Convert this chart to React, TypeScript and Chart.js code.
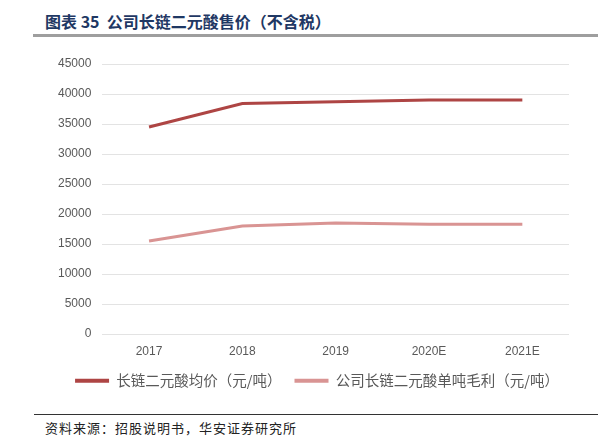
import React, { useEffect, useRef } from "react";
import { Chart, registerables } from "chart.js";

Chart.register(...registerables);

const categories = ["2017", "2018", "2019", "2020E", "2021E"];
const avgPrice = [34500, 38400, 38700, 39000, 39000];
const grossProfit = [15500, 18000, 18500, 18300, 18300];
const seriesNames = ["长链二元酸均价（元/吨）", "公司长链二元酸单吨毛利（元/吨）"];
const yTicks = [0, 5000, 10000, 15000, 20000, 25000, 30000, 35000, 40000, 45000];

const titleText = "图表 35  公司长链二元酸售价（不含税）";
const sourceText = "资料来源：招股说明书，华安证券研究所";

const legendShift = {
  id: "legendShift",
  afterLayout(chart: any) {
    const l = chart.legend;
    if (l) {
      l.left += 9;
      l.right += 9;
    }
  },
};

export default function App() {
  const ref = useRef<HTMLCanvasElement | null>(null);

  useEffect(() => {
    if (!ref.current) return;
    const chart = new Chart(ref.current, {
      type: "line",
      data: {
        labels: categories,
        datasets: [
          {
            label: seriesNames[0],
            data: avgPrice,
            borderColor: "#AE4544",
            backgroundColor: "#AE4544",
            borderWidth: 3,
            pointRadius: 0,
            tension: 0,
          },
          {
            label: seriesNames[1],
            data: grossProfit,
            borderColor: "#D99493",
            backgroundColor: "#D99493",
            borderWidth: 3,
            pointRadius: 0,
            tension: 0,
          },
        ],
      },
      plugins: [legendShift],
      options: {
        animation: false,
        responsive: false,
        maintainAspectRatio: false,
        layout: { padding: { top: 24, left: 47, right: 39, bottom: 0 } },
        plugins: {
          tooltip: { enabled: false },
          legend: {
            position: "bottom",
            labels: {
              boxWidth: 34,
              boxHeight: 4,
              padding: 13,
              color: "#595959",
              font: { family: "'Noto Sans CJK SC', sans-serif", size: 14.5 },
              generateLabels: (c: any) => {
                const items = Chart.defaults.plugins.legend.labels.generateLabels(c);
                items.forEach((it: any) => {
                  it.lineWidth = 0;
                });
                return items;
              },
            },
          },
        },
        scales: {
          x: {
            offset: true,
            grid: { display: false, drawOnChartArea: false, drawTicks: false },
            border: { display: false },
            afterFit: (s: any) => {
              s.height -= 8;
            },
            ticks: {
              padding: 10,
              color: "#595959",
              font: { family: "'Liberation Sans', Arial, sans-serif", size: 12 },
            },
          },
          y: {
            min: 0,
            max: 45000,
            afterBuildTicks: (s: any) => {
              s.ticks = yTicks.map((v) => ({ value: v }));
            },
            grid: { color: "#E3E3E3", lineWidth: 1, drawTicks: false },
            border: { display: false },
            ticks: {
              padding: 11,
              color: "#595959",
              font: { family: "'Liberation Sans', Arial, sans-serif", size: 12 },
              callback: (v: any) => String(v),
            },
          },
        },
      },
    });
    return () => chart.destroy();
  }, []);

  return (
    <div
      style={{
        position: "fixed",
        left: 0,
        top: 0,
        width: 608,
        height: 439,
        background: "#fff",
        overflow: "hidden",
      }}
    >
      <div
        style={{
          position: "absolute",
          left: 45,
          top: 10,
          fontFamily: "'Noto Sans CJK SC', sans-serif",
          fontWeight: 700,
          fontSize: 16,
          lineHeight: "22px",
          color: "#1F3864",
          whiteSpace: "pre",
        }}
      >
        {titleText}
      </div>
      <div
        style={{
          position: "absolute",
          left: 33,
          top: 34,
          width: 565,
          height: 3,
          background: "#9E9E9E",
        }}
      />
      <canvas
        ref={ref}
        width={608}
        height={358}
        style={{ position: "absolute", left: 0, top: 40, width: 608, height: 358 }}
      />
      <div
        style={{
          position: "absolute",
          left: 34,
          top: 414,
          width: 564,
          height: 1,
          background: "#333",
        }}
      />
      <div
        style={{
          position: "absolute",
          left: 45,
          top: 419,
          fontFamily: "'Noto Sans CJK SC', sans-serif",
          fontSize: 13,
          lineHeight: "18px",
          letterSpacing: "1px",
          color: "#222",
          whiteSpace: "pre",
        }}
      >
        {sourceText}
      </div>
    </div>
  );
}
